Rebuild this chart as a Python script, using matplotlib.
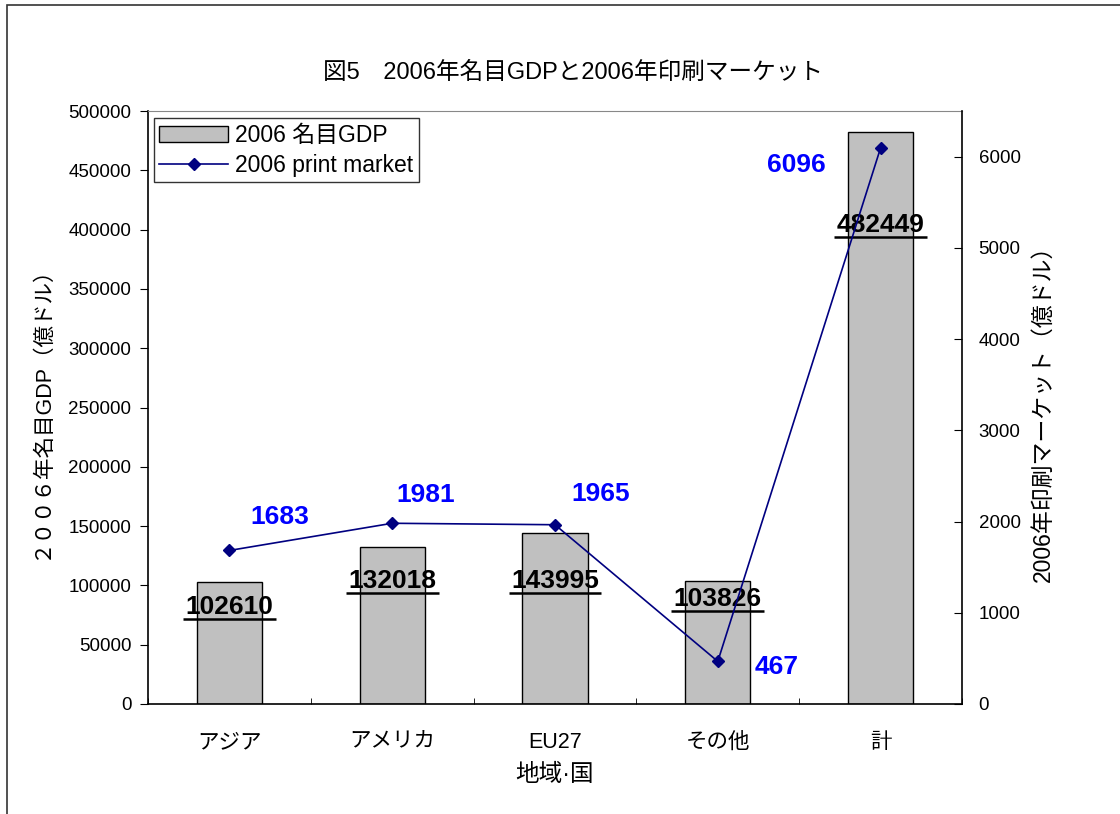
"""Recreate Figure 5: 2006 nominal GDP vs 2006 print market."""

import matplotlib

matplotlib.use("Agg")
import matplotlib.pyplot as plt
from matplotlib.patches import Rectangle
import numpy as np

plt.rcParams["font.family"] = ["Liberation Sans", "Noto Sans CJK JP", "DejaVu Sans"]

regions = ["アジア", "アメリカ", "EU27", "その他", "計"]
gdp = [102610, 132018, 143995, 103826, 482449]
print_market = [1683, 1981, 1965, 467, 6096]

# underline height of each bar label (left-axis units) and offset of each line label (points)
gdp_label_y = [71700, 93600, 93600, 78400, 393800]
market_label_offset = [(36, 24), (24, 20), (33, 22), (42, -4), (-61, -12)]

left_ticks = np.arange(0, 500001, 50000)
right_ticks = np.arange(0, 6001, 1000)

fig = plt.figure(figsize=(11.2, 8.14), dpi=100)
# outer chart frame (runs off the right/bottom edge like the source screenshot)
fig.patches.append(Rectangle((7 / 1120, -0.05), 1.2, 1 - 5 / 814 + 0.05,
                             transform=fig.transFigure, fill=False,
                             edgecolor="#333333", lw=1.2))

ax = fig.add_axes([148 / 1120, 1 - 704 / 814, 814 / 1120, 593 / 814])
x = np.arange(len(regions))
bars = ax.bar(x, gdp, width=0.4, color="#c0c0c0", edgecolor="black", lw=1.0,
              label="2006 名目GDP", zorder=2)
ax.set_xlim(-0.5, len(regions) - 0.5)
ax.set_ylim(0, 500000)
ax.set_yticks(left_ticks)
ax.set_yticklabels([str(v) for v in left_ticks], fontsize=13.5)
ax.set_xticks(x)
ax.set_xticklabels(regions, fontsize=15.5)
ax.tick_params(axis="x", length=0, pad=20)
ax.set_xticks(np.arange(-0.5, len(regions)), minor=True)
ax.tick_params(axis="x", which="minor", direction="in", length=4, color="black")
ax.tick_params(axis="y", direction="out", length=6, pad=6)
ax.spines["top"].set_color("#888888")
ax.spines["right"].set_visible(False)
for s in ("left", "bottom"):
    ax.spines[s].set_linewidth(1.2)
ax.set_xlabel("地域·国", fontsize=17, labelpad=8)
ax.set_ylabel("２００６年名目GDP（億ドル）", fontsize=15.5, labelpad=12)

for xi, val, ly in zip(x, gdp, gdp_label_y):
    ax.text(xi, ly, str(val), ha="center", va="bottom", fontsize=19,
            fontweight="bold", color="black", zorder=4)
    ax.plot([xi - 0.285, xi + 0.285], [ly, ly], color="black", lw=1.8,
            zorder=4, solid_capstyle="butt")

ax2 = ax.twinx()
line, = ax2.plot(x, print_market, color="#000080", lw=1.2, marker="D",
                 markersize=6, label="2006 print market", zorder=3)
ax2.set_ylim(0, 6500)
ax2.set_yticks(right_ticks)
ax2.set_yticklabels([str(v) for v in right_ticks], fontsize=13.5)
ax2.tick_params(axis="y", direction="in", length=6, pad=12)
ax2.spines["right"].set_linewidth(1.2)
ax2.spines["top"].set_visible(False)
ax2.spines["left"].set_visible(False)
ax2.spines["bottom"].set_visible(False)
ax2.set_ylabel("2006年印刷マーケット（億ドル）", fontsize=16.5, labelpad=8)

for xi, val, off in zip(x, print_market, market_label_offset):
    ax2.annotate(str(val), (xi, val), xytext=off, textcoords="offset points",
                 ha="center", va="center", fontsize=19, fontweight="bold",
                 color="#0000ff")

leg = ax.legend([bars, line], ["2006 名目GDP", "2006 print market"],
                loc="upper left", bbox_to_anchor=(0.007, 0.988), fontsize=16.5,
                frameon=True, fancybox=False, edgecolor="black",
                borderpad=0.25, handlelength=3.0, labelspacing=0.3,
                handletextpad=0.3, borderaxespad=0)
leg.get_frame().set_linewidth(1.0)
leg.set_zorder(10)

fig.text(573 / 1120, 1 - 73 / 814, "図5　2006年名目GDPと2006年印刷マーケット",
         ha="center", va="center", fontsize=17)

fig.savefig("out.png", dpi=100)
plt.close(fig)
